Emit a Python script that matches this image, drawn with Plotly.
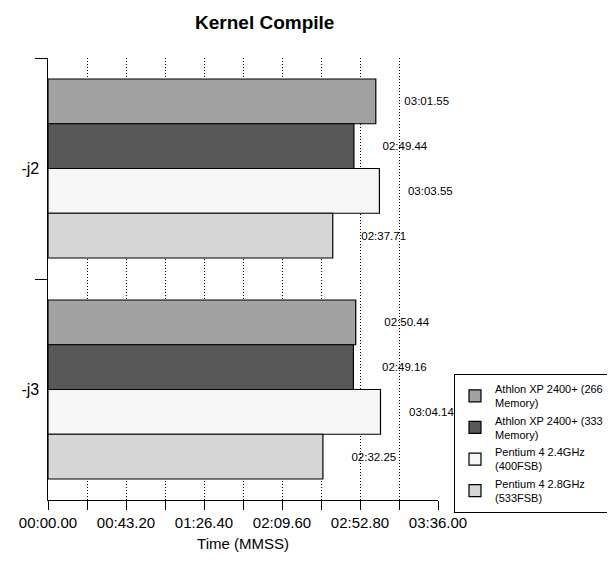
import plotly.graph_objects as go

categories = ["-j2", "-j3"]
series_names = [
    "Athlon XP 2400+ (266<br>Memory)",
    "Athlon XP 2400+ (333<br>Memory)",
    "Pentium 4 2.4GHz<br>(400FSB)",
    "Pentium 4 2.8GHz<br>(533FSB)",
]
# seconds
athlon_266 = [181.55, 170.44]
athlon_333 = [169.44, 169.16]
p4_24 = [183.55, 184.14]
p4_28 = [157.71, 152.25]
series_values = [athlon_266, athlon_333, p4_24, p4_28]
colors = ["#a2a2a2", "#585858", "#f6f6f6", "#d6d6d6"]

tick_vals = [0, 43.2, 86.4, 129.6, 172.8, 216.0]
tick_text = ["00:00.00", "00:43.20", "01:26.40", "02:09.60", "02:52.80", "03:36.00"]


def fmt(sec):
    m = int(sec // 60)
    s = sec - 60 * m
    return f"{m:02d}:{s:05.2f}"


FONT = "Liberation Sans, Arial, sans-serif"
pad = "\u00a0" * 8

fig = go.Figure()
for name, vals, col in zip(series_names, series_values, colors):
    fig.add_trace(go.Bar(
        y=categories, x=vals, orientation="h", name=name,
        marker=dict(color=col, line=dict(color="black", width=1.2)),
        text=[pad + fmt(v) for v in vals],
        textposition="outside",
        textfont=dict(size=11.5, color="black", family=FONT),
        cliponaxis=False,
    ))

fig.update_layout(
    width=607, height=563,
    margin=dict(l=40, r=177, t=50, b=71, autoexpand=False),
    paper_bgcolor="white", plot_bgcolor="white",
    barmode="group", bargap=0.19, bargroupgap=0,
    font=dict(family=FONT, color="black"),
    title=dict(text="<b>Kernel Compile</b>", x=0.423, xanchor="center",
               y=0.975, yanchor="middle", font=dict(size=19, family=FONT)),
    legend=dict(
        x=1.041, xanchor="left", y=0.285, yanchor="top",
        bordercolor="black", borderwidth=1, bgcolor="white",
        font=dict(size=11, family=FONT), tracegroupgap=6,
        itemwidth=30,
    ),
    showlegend=True,
)
fig.update_xaxes(
    range=[0, 216], tickmode="array", tickvals=tick_vals, ticktext=tick_text,
    ticks="outside", ticklen=9, tickcolor="black", automargin=False,
    showline=True, linecolor="black", linewidth=1.2,
    showgrid=True, gridcolor="black", griddash="1px,2px", gridwidth=1,
    tickfont=dict(size=15), zeroline=False,
    minor=dict(dtick=21.6, tick0=0, ticks="outside", ticklen=9, tickcolor="black",
               showgrid=True, gridcolor="black", griddash="1px,2px", gridwidth=1),
    title=dict(text="Time (MMSS)", font=dict(size=15), standoff=8),
)
fig.update_yaxes(
    autorange="reversed", ticks="outside", tickson="boundaries", ticklen=12,
    tickcolor="black", showline=True, linecolor="black", linewidth=1.2,
    showgrid=False, tickfont=dict(size=16), ticksuffix=" ", automargin=False,
)

fig.write_html("out.html")
